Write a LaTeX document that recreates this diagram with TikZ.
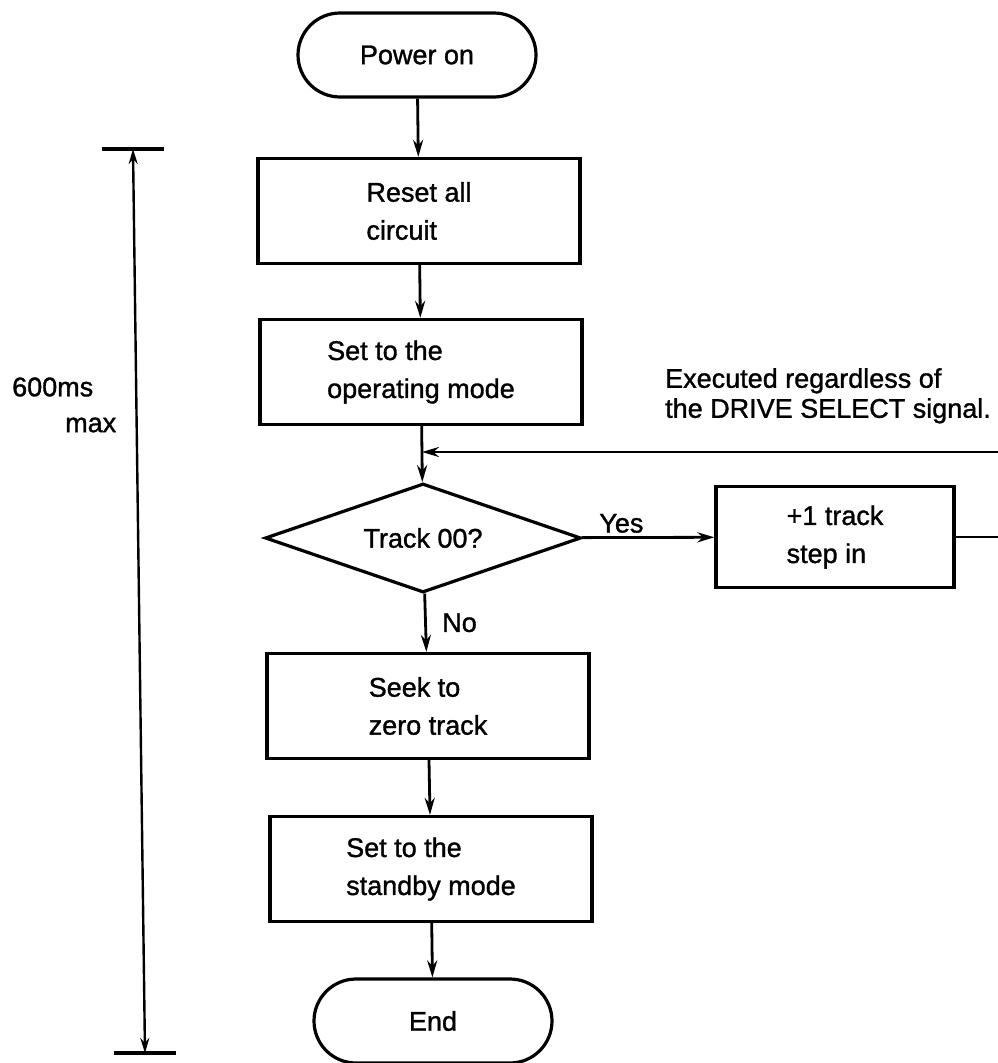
\documentclass[tikz,border=0pt]{standalone}
\usepackage{fontspec}
\setmainfont{Liberation Sans}[FakeBold=1.2]
\usetikzlibrary{arrows.meta,shapes.geometric}

\begin{document}
\begin{tikzpicture}[x=1pt,y=-1pt,
  every node/.style={font=\fontsize{27pt}{38pt}\selectfont},
  proc/.style={draw,line width=3.2pt,minimum width=322pt,minimum height=105pt,align=left,inner sep=0pt},
  term/.style={draw,line width=3.2pt,rounded corners=42pt,minimum width=238pt,minimum height=84pt},
  decide/.style={draw,diamond,line width=3.2pt,aspect=2.9,minimum width=316pt,minimum height=109pt,inner sep=0pt},
  flow/.style={line width=2.8pt,-{Stealth[length=17pt,width=10pt]}},
  note/.style={font=\fontsize{27pt}{30pt}\selectfont,inner sep=0pt}]
  \fill[white] (0,0) rectangle (997,1063);
  \useasboundingbox (0,0) rectangle (997,1063);

  \node[term] (power) at (417,55) {Power on};
  \node[proc] (reset) at (419,211) {Reset all\\circuit};
  \node[proc] (opmode) at (421,372) {Set to the\\operating mode};
  \node[decide] (track) at (423,538) {Track 00?};
  \node[proc,minimum width=238pt,minimum height=101pt] (step) at (835,537) {+1 track\\step in};
  \node[proc] (seek) at (428,706) {Seek to\\zero track};
  \node[proc] (standby) at (431,869) {Set to the\\standby mode};
  \node[term] (finish) at (433,1021) {End};

  \draw[flow] (power) -- (reset);
  \draw[flow] (reset) -- (opmode);
  \draw[flow] (opmode) -- (track);
  \draw[flow] (track) -- node[above,pos=0.3] (yes) {Yes} (step);
  \draw[flow] (track) -- node[right=12pt] (no) {No} (seek);
  \draw[flow] (seek) -- (standby);
  \draw[flow] (standby) -- (finish);

  \coordinate (fbjoin) at (422,452);
  \coordinate (fbright) at (999,452);
  \draw[flow] (step.east) -| (fbright) -- (fbjoin);
  \node[note,anchor=north west,align=left] (remark) at (665,368) {Executed regardless of\\the DRIVE SELECT signal.};

  \coordinate (dimtop) at (133,149);
  \coordinate (dimbot) at (145,1053);
  \draw[line width=3.2pt] ([xshift=-31pt]dimtop) -- ([xshift=31pt]dimtop);
  \draw[line width=3.2pt] ([xshift=-31pt]dimbot) -- ([xshift=31pt]dimbot);
  \draw[line width=2.4pt,{Stealth[length=15pt,width=9pt]}-{Stealth[length=15pt,width=9pt]}] (dimtop) -- (dimbot);
  \node[note,anchor=west] (limit) at (12,387) {600ms};
  \node[note,anchor=west] (limitmax) at (65,425) {max};
\end{tikzpicture}
\end{document}
